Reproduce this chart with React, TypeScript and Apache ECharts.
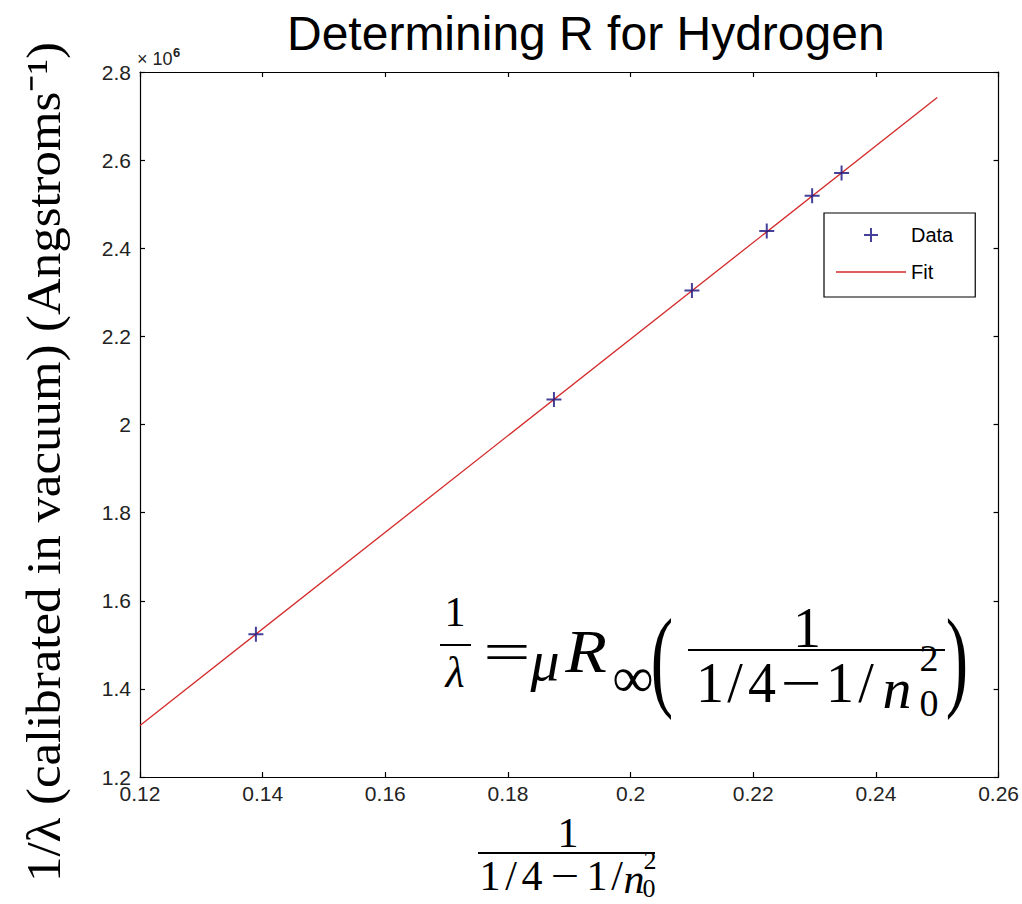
import React, { useEffect, useRef } from 'react';
import * as echarts from 'echarts';

// ---- data ----
const titleText = 'Determining R for Hydrogen';
const seriesNames = ['Data', 'Fit'];
const dataX = [0.1389, 0.1875, 0.21, 0.2222, 0.2296, 0.2344];
const dataY = [1.524e6, 2.057e6, 2.304e6, 2.439e6, 2.519e6, 2.571e6];
const fitX = [0.12, 0.25];
const fitY = [1.317e6, 2.742e6];
const xRange = [0.12, 0.26];
const xStep = 0.02;
const yRange = [1.2e6, 2.8e6];
const yStep = 0.2e6;
const yLabelText = '1/\u03BB (calibrated in vacuum) (Angstroms\u207B\u00B9)';
const exponentBase = '\u00D7 10';
const exponentPower = '6';

const serif = 'Liberation Serif';
const sans = 'Liberation Sans';

function glyph(text: string, x: number, y: number, size: number, italic = false, extra: any = {}) {
  return {
    type: 'text',
    x,
    y,
    silent: true,
    ...extra,
    style: {
      text,
      fontFamily: serif,
      fontSize: size,
      fontStyle: italic ? 'italic' : 'normal',
      fontWeight: 'normal',
      fill: '#000',
      textAlign: 'center',
      textVerticalAlign: 'middle',
      ...(extra.style || {}),
    },
  };
}

function bar(x1: number, x2: number, y: number, w = 2) {
  return { type: 'line', silent: true, shape: { x1, y1: y, x2, y2: y }, style: { stroke: '#000', lineWidth: w } };
}

const plusPath = 'path://M5,0L5,10M0,5L10,5';
const dashPath = 'path://M0,0L70,0L70,1.4L0,1.4Z';

export default function App() {
  const ref = useRef<HTMLDivElement>(null);
  useEffect(() => {
    const chart = echarts.init(ref.current as HTMLDivElement, null, { renderer: 'svg' });
    const grid = { left: 140, right: 21, top: 72, bottom: 127, containLabel: false };
    const axisLine = { show: true, lineStyle: { color: '#000', width: 1.2 } };
    const axisTick = { show: true, inside: true, length: 5, lineStyle: { color: '#000', width: 1.2 } };
    const xFmt = (v: number) => String(Math.round(v * 100) / 100);
    const yFmt = (v: number) => String(Math.round(v / 1e5) / 10);

    const graphic: any[] = [
      // exponent marker
      { type: 'text', x: 137, y: 59, silent: true, style: { text: exponentBase, fontFamily: sans, fontSize: 18, fill: '#222', textAlign: 'left', textVerticalAlign: 'middle' } },
      { type: 'text', x: 173, y: 52, silent: true, style: { text: exponentPower, fontFamily: sans, fontSize: 13, fontWeight: 'bold', fill: '#222', textAlign: 'left', textVerticalAlign: 'middle' } },
      // y axis label
      glyph(yLabelText, 44, 462, 48, false, { rotation: Math.PI / 2, scaleX: 1.06 }),
      // x axis label: 1 / (1/4 - 1/n0^2)
      glyph('1', 568, 833, 42),
      bar(478, 655, 853, 2),
      glyph('1', 490, 876, 42),
      glyph('/', 511, 876, 42),
      glyph('4', 532, 876, 42),
      glyph('\u2212', 565, 876, 42, false, { scaleX: 1.2 }),
      glyph('1', 597, 876, 42),
      glyph('/', 617, 876, 42),
      glyph('n', 634, 879, 42, true),
      glyph('2', 650, 860, 26),
      glyph('0', 649, 888, 26),
      // formula: 1/lambda = mu R_inf ( 1 / (1/4 - 1/n0^2) )
      glyph('1', 455, 612, 42),
      bar(440, 471, 645, 2),
      glyph('\u03BB', 455, 672, 44, true),
      glyph('=', 507, 652, 56, false, { scaleX: 1.5 }),
      glyph('\u03BC', 545, 660, 58, true),
      glyph('R', 586, 651, 62, true, { scaleX: 1.1 }),
      glyph('\u221E', 633, 677, 58),
      glyph('(', 662, 658, 112, false, { scaleX: 0.6 }),
      glyph('1', 807, 628, 56),
      bar(688, 945, 650, 2.2),
      glyph('1', 710, 683, 56),
      glyph('/', 735, 683, 56),
      glyph('4', 762, 683, 56),
      glyph('\u2212', 801, 683, 56, false, { scaleX: 1.3 }),
      glyph('1', 840, 683, 56),
      glyph('/', 866, 683, 56),
      glyph('n', 897, 688, 58, true),
      glyph('2', 929, 658, 38),
      glyph('0', 929, 703, 38),
      glyph(')', 957, 658, 112, false, { scaleX: 0.6 }),
    ];

    chart.setOption({
      animation: false,
      backgroundColor: '#fff',
      title: {
        text: titleText,
        left: 282,
        top: 4,
        textStyle: { fontFamily: sans, fontSize: 48, fontWeight: 'normal', color: '#000' },
      },
      grid,
      legend: {
        orient: 'vertical',
        left: 824,
        top: 213,
        padding: [12, 22, 15, 12],
        itemGap: 17,
        itemWidth: 70,
        itemHeight: 14,
        backgroundColor: '#fff',
        borderColor: '#000',
        borderWidth: 1.2,
        borderRadius: 0,
        textStyle: { fontFamily: sans, fontSize: 20, color: '#000' },
        data: [
          { name: seriesNames[0], icon: plusPath, itemStyle: { borderWidth: 2 } },
          { name: seriesNames[1], icon: dashPath, itemStyle: { color: '#d42a2a', borderWidth: 0 } },
        ],
      },
      xAxis: [
        {
          type: 'value', min: xRange[0], max: xRange[1], interval: xStep, position: 'bottom',
          axisLine, axisTick, splitLine: { show: false },
          axisLabel: { formatter: xFmt, fontFamily: sans, fontSize: 21, color: '#222', margin: 6 },
        },
        {
          type: 'value', min: xRange[0], max: xRange[1], interval: xStep, position: 'top',
          axisLine, axisTick, splitLine: { show: false }, axisLabel: { show: false },
        },
      ],
      yAxis: [
        {
          type: 'value', min: yRange[0], max: yRange[1], interval: yStep, position: 'left',
          axisLine, axisTick, splitLine: { show: false },
          axisLabel: { formatter: yFmt, fontFamily: sans, fontSize: 21, color: '#222', margin: 9 },
        },
        {
          type: 'value', min: yRange[0], max: yRange[1], interval: yStep, position: 'right',
          axisLine, axisTick, splitLine: { show: false }, axisLabel: { show: false },
        },
      ],
      series: [
        {
          name: seriesNames[1],
          type: 'line',
          xAxisIndex: 0,
          yAxisIndex: 0,
          data: fitX.map((x, i) => [x, fitY[i]]),
          symbol: 'none',
          showSymbol: false,
          lineStyle: { color: '#d42a2a', width: 1.3 },
          itemStyle: { color: '#d42a2a' },
          z: 2,
        },
        {
          name: seriesNames[0],
          type: 'scatter',
          xAxisIndex: 0,
          yAxisIndex: 0,
          data: dataX.map((x, i) => [x, dataY[i]]),
          symbol: plusPath,
          symbolSize: 15,
          itemStyle: { color: 'transparent', borderColor: '#16127e', borderWidth: 2 },
          z: 3,
        },
      ],
      graphic,
    });
    return () => chart.dispose();
  }, []);
  return (
    <div
      ref={ref}
      style={{ position: 'fixed', left: 0, top: 0, width: 1022, height: 904, background: '#fff' }}
    />
  );
}
